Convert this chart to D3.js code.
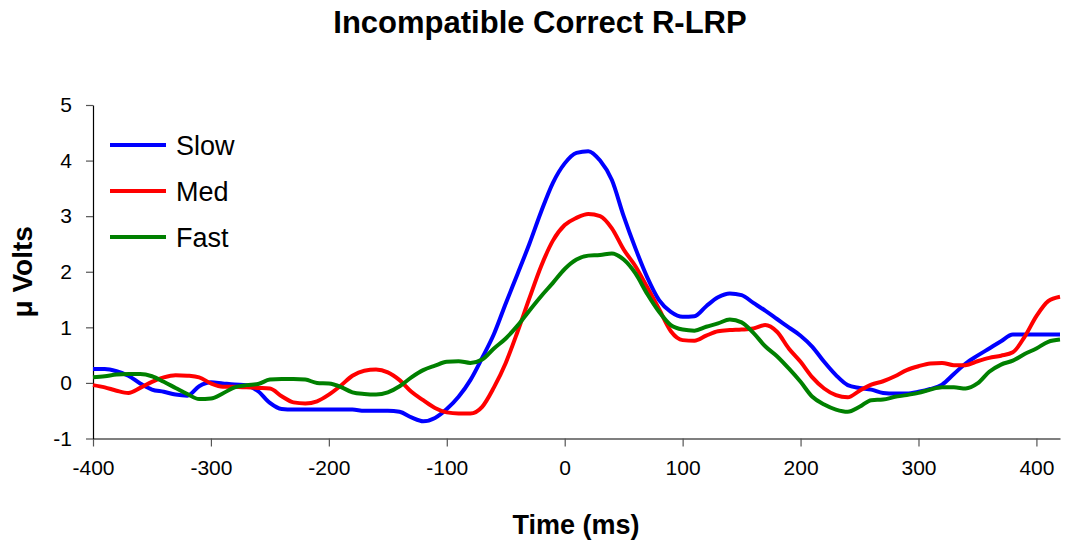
<!DOCTYPE html>
<html>
<head>
<meta charset="utf-8">
<script src="https://cdn.jsdelivr.net/npm/d3@7"></script>
<style>
  body { margin: 0; background: #fff; }
  text { font-family: 'Liberation Sans', Arial, sans-serif; }
</style>
</head>
<body>
<div id="chart"></div>
<script>
// time in ms, every 10 ms
let times = d3.range(-400, 421, 10)

let slow = [
  0.25, 0.25, 0.21, 0.13, -0.01, -0.12, -0.16, -0.21, -0.23, -0.06,
  0.01, -0.01, -0.03, -0.04, -0.15, -0.36, -0.47, -0.48, -0.48, -0.48,
  -0.48, -0.48, -0.48, -0.5, -0.5, -0.5, -0.52, -0.62, -0.69, -0.63,
  -0.47, -0.25, 0.05, 0.45, 0.88, 1.43, 1.96, 2.5, 3.08, 3.6,
  3.95, 4.14, 4.17, 4.0, 3.65, 3.0, 2.42, 1.9, 1.49, 1.28,
  1.19, 1.2, 1.38, 1.54, 1.61, 1.58, 1.44, 1.3, 1.15, 1.0,
  0.85, 0.65, 0.38, 0.14, -0.04, -0.09, -0.12, -0.18, -0.19, -0.19,
  -0.16, -0.11, -0.03, 0.16, 0.35, 0.49, 0.62, 0.75, 0.87, 0.87,
  0.87, 0.87, 0.87
]

let med = [
  -0.04, -0.08, -0.14, -0.18, -0.09, 0.02, 0.1, 0.14, 0.13, 0.1,
  -0.01, -0.07, -0.07, -0.08, -0.09, -0.1, -0.24, -0.35, -0.37, -0.33,
  -0.21, -0.05, 0.13, 0.22, 0.24, 0.19, 0.05, -0.16, -0.31, -0.45,
  -0.53, -0.55, -0.55, -0.43, -0.08, 0.36, 0.92, 1.52, 2.1, 2.56,
  2.84, 2.97, 3.04, 3.0, 2.78, 2.4, 2.1, 1.72, 1.33, 0.93,
  0.77, 0.76, 0.85, 0.93, 0.95, 0.96, 0.98, 1.04, 0.92, 0.62,
  0.38, 0.1, -0.1, -0.22, -0.26, -0.14, -0.03, 0.03, 0.12, 0.23,
  0.3, 0.35, 0.36, 0.32, 0.32, 0.39, 0.45, 0.49, 0.55, 0.83,
  1.2, 1.47, 1.55
]

let fast = [
  0.1, 0.12, 0.15, 0.16, 0.16, 0.12, 0.02, -0.09, -0.2, -0.29,
  -0.28, -0.19, -0.08, -0.04, -0.02, 0.06, 0.07, 0.07, 0.06, 0.0,
  -0.01, -0.07, -0.17, -0.2, -0.21, -0.17, -0.06, 0.1, 0.23, 0.31,
  0.38, 0.39, 0.36, 0.42, 0.62, 0.8, 1.03, 1.3, 1.56, 1.8,
  2.05, 2.22, 2.29, 2.3, 2.33, 2.22, 1.97, 1.6, 1.28, 1.04,
  0.96, 0.94, 1.01, 1.07, 1.14, 1.09, 0.9, 0.66, 0.48, 0.26,
  0.02, -0.25, -0.39, -0.48, -0.52, -0.43, -0.31, -0.3, -0.25, -0.22,
  -0.18, -0.12, -0.08, -0.08, -0.1, -0.01, 0.2, 0.33, 0.4, 0.52,
  0.62, 0.74, 0.78
]

let seriesNames = ['Slow', 'Med', 'Fast']
let seriesColors = ['#0000ff', '#ff0000', '#008000']
let xTicks = [-400, -300, -200, -100, 0, 100, 200, 300, 400]
let yTicks = [-1, 0, 1, 2, 3, 4, 5]

let margin = { top: 105, left: 93, right: 7, bottom: 105.5 }
let width = 1067 - margin.left - margin.right
let height = 544 - margin.top - margin.bottom

let svg = d3
  .select('#chart')
  .append('svg')
  .attr('width', 1067)
  .attr('height', 544)
  .append('g')
  .attr('transform', 'translate(' + margin.left + ',' + margin.top + ')')

let xPositionScale = d3.scaleLinear().domain([-400, 420]).range([0, width])
let yPositionScale = d3.scaleLinear().domain([-1, 5]).range([height, 0])

let line = d3
  .line()
  .x(d => xPositionScale(d.time))
  .y(d => yPositionScale(d.value))
  .curve(d3.curveMonotoneX)

let nested = [slow, med, fast].map((values, i) => ({
  key: seriesNames[i],
  color: seriesColors[i],
  values: values.map((v, j) => ({ time: times[j], value: v }))
}))

// plain hyphen minus, no decimals
let plain = d => String(d)

// axes
let xAxis = d3
  .axisBottom(xPositionScale)
  .tickValues(xTicks)
  .tickFormat(plain)
  .tickSize(8)
  .tickSizeOuter(0)
svg
  .append('g')
  .attr('class', 'axis x-axis')
  .attr('transform', 'translate(0,' + height + ')')
  .call(xAxis)

let yAxis = d3
  .axisLeft(yPositionScale)
  .tickValues(yTicks)
  .tickFormat(plain)
  .tickSize(7)
  .tickSizeOuter(0)
svg
  .append('g')
  .attr('class', 'axis y-axis')
  .call(yAxis)

svg.selectAll('.axis .domain').attr('stroke', '#000').attr('stroke-width', 1.2)
svg.selectAll('.axis .tick line').attr('stroke', '#555').attr('stroke-width', 1.2)
svg.selectAll('.axis text')
  .attr('font-size', 21)
  .attr('fill', '#000')
  .attr('font-family', "'Liberation Sans', Arial, sans-serif")
svg.selectAll('.x-axis text').attr('dy', '1.2em')
svg.selectAll('.y-axis text').attr('x', -21)

// lines
svg
  .selectAll('.c-line')
  .data(nested)
  .enter()
  .append('path')
  .attr('class', 'c-line')
  .attr('d', d => line(d.values))
  .attr('stroke', d => d.color)
  .attr('stroke-width', 4)
  .attr('stroke-linejoin', 'round')
  .attr('fill', 'none')

// legend
let legend = svg
  .selectAll('.legend')
  .data(nested)
  .enter()
  .append('g')
  .attr('class', 'legend')
  .attr('transform', (d, i) => 'translate(17,' + (40 + i * 46) + ')')

legend
  .append('line')
  .attr('x1', 0)
  .attr('x2', 56)
  .attr('stroke', d => d.color)
  .attr('stroke-width', 4)

legend
  .append('text')
  .attr('x', 66)
  .attr('y', 10)
  .attr('font-size', 27)
  .text(d => d.key)

// titles
svg
  .append('text')
  .attr('text-anchor', 'middle')
  .attr('x', 447)
  .attr('y', -72)
  .attr('font-size', 31)
  .attr('font-weight', 'bold')
  .text('Incompatible Correct R-LRP')

svg
  .append('text')
  .attr('text-anchor', 'middle')
  .attr('x', 483)
  .attr('y', height + 95)
  .attr('font-size', 27)
  .attr('font-weight', 'bold')
  .text('Time (ms)')

svg
  .append('text')
  .attr('text-anchor', 'middle')
  .attr('transform', 'translate(-61,' + (height / 2) + ') rotate(-90)')
  .attr('font-size', 28)
  .attr('font-weight', 'bold')
  .text('μ Volts')
</script>
</body>
</html>
